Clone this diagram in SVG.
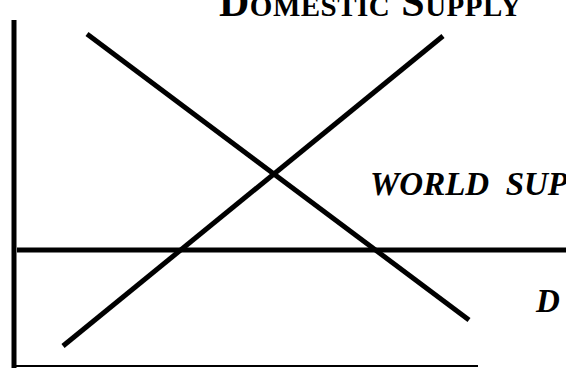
<svg xmlns="http://www.w3.org/2000/svg" width="566" height="368" viewBox="0 0 566 368">
<style>
.ln{stroke:#000;stroke-width:5;fill:none}
.lbl{font-family:"Liberation Serif","Times New Roman",serif;font-weight:bold;font-style:italic;font-size:33px;fill:#000}
.ttl{font-family:"Liberation Serif","Times New Roman",serif;font-weight:bold;font-size:42px;font-variant:small-caps;letter-spacing:0.5px;fill:#000}
</style>
<rect width="566" height="368" fill="#fff"/>
<g id="axes">
<line class="ln" x1="14" y1="20" x2="14" y2="368" stroke-width="6"/>
<line x1="14" y1="366" x2="478" y2="366" stroke="#000" stroke-width="2"/>
</g>
<g id="connectors">
<line id="world-supply-line" class="ln" x1="17" y1="250" x2="566" y2="250" stroke-width="6"/>
<line id="demand-line" class="ln" x1="87" y1="34" x2="469" y2="320"/>
<line id="domestic-supply-line" class="ln" x1="63" y1="346" x2="443" y2="36"/>
</g>
<g id="domestic-supply-label"><text class="ttl" x="219" y="16" xml:space="preserve">Domestic Supply</text></g>
<g id="world-supply-label"><text class="lbl" x="370" y="195" xml:space="preserve">WORLD  SUPPLY</text></g>
<g id="demand-label"><text class="lbl" x="536" y="312">D</text></g>
</svg>
